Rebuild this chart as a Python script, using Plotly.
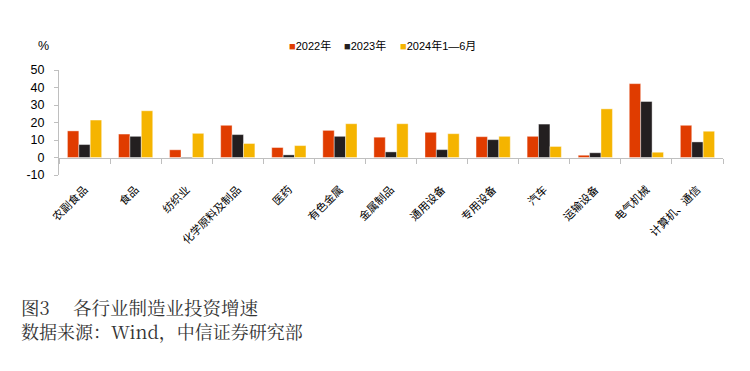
import plotly.graph_objects as go

categories = ["农副食品", "食品", "纺织业", "化学原料及制品", "医药", "有色金属", "金属制品",
              "通用设备", "专用设备", "汽车", "运输设备", "电气机械", "计算机、通信"]
s2022 = [15.2, 13.4, 4.4, 18.4, 5.7, 15.5, 11.6, 14.4, 11.9, 12.1, 1.3, 42.2, 18.4]
s2023 = [7.4, 12.1, -0.5, 13.1, 1.5, 12.1, 3.2, 4.5, 10.2, 19.1, 2.7, 32.0, 8.9]
s2024 = [21.4, 26.7, 13.8, 8.0, 6.8, 19.3, 19.3, 13.6, 12.1, 6.3, 27.8, 3.0, 15.0]
series_names = ["2022年", "2023年", "2024年1—6月"]
colors = ["#E03C00", "#231F20", "#F5B400"]
yticks = [-10, 0, 10, 20, 30, 40, 50]
ytick_labels = ["-10", "0", "10", "20", "30", "40", "50"]

PLOT_LEFT, PLOT_RIGHT = 59, 723
PLOT_TOP, PLOT_BOTTOM = 70, 175


def px_x(px):
    return (px - PLOT_LEFT) / (PLOT_RIGHT - PLOT_LEFT)


def px_y(px):
    return (PLOT_BOTTOM - px) / (PLOT_BOTTOM - PLOT_TOP)


fig = go.Figure()
for name, vals, c in zip(series_names, [s2022, s2023, s2024], colors):
    fig.add_trace(go.Bar(x=categories, y=vals, name=name, marker_color=c, showlegend=False,
                         marker_line=dict(color="rgba(255,255,255,0.5)", width=0.8)))

# helper trace for the zero-line category axis
fig.add_trace(go.Scatter(x=categories, y=[None] * len(categories), xaxis="x2", mode="lines",
                         showlegend=False, hoverinfo="skip"))

cat_range = [-0.5, len(categories) - 0.5]

# compact legend (small square + label), as text
legend_x_px = [287, 342, 398]
legend_ann = [
    dict(text=f'<span style="color:{c}">■</span>{n}', xref="paper", yref="paper",
         x=px_x(lx), y=px_y(45), xanchor="left", yanchor="middle", showarrow=False,
         font=dict(size=11, family="Arial, Noto Sans CJK SC", color="#000"))
    for n, c, lx in zip(series_names, colors, legend_x_px)
]

fig.update_layout(
    width=750, height=371,
    margin=dict(l=PLOT_LEFT, r=750 - PLOT_RIGHT, t=PLOT_TOP, b=371 - PLOT_BOTTOM, autoexpand=False),
    paper_bgcolor="white", plot_bgcolor="white",
    barmode="group", bargap=0.33, bargroupgap=0,
    showlegend=False,
    font=dict(family="Arial, Liberation Sans, Noto Sans CJK SC", size=12, color="#000"),
    xaxis=dict(type="category", categoryorder="array", categoryarray=categories,
               range=cat_range, autorange=False,
               showline=False, ticks="", tickangle=-45, showgrid=False, zeroline=False,
               automargin=False, ticklabelstandoff=5,
               tickfont=dict(size=11, family="Noto Sans CJK SC", color="#000")),
    xaxis2=dict(type="category", categoryorder="array", categoryarray=categories,
                range=cat_range, autorange=False,
                overlaying="x", anchor="free", position=1 / 6,
                showline=True, linecolor="#BFBFBF", linewidth=1, automargin=False,
                ticks="outside", tickson="boundaries", ticklen=5, tickcolor="#BFBFBF",
                showticklabels=False, showgrid=False, zeroline=False),
    yaxis=dict(range=[-10, 50], tickvals=yticks, ticktext=ytick_labels,
               showgrid=False, zeroline=False, automargin=False,
               showline=True, linecolor="#BFBFBF", linewidth=1,
               ticks="outside", ticklen=4, tickcolor="#BFBFBF", ticklabelstandoff=7,
               tickfont=dict(size=12.5, family="Arial, Liberation Sans")),
    annotations=legend_ann + [
        dict(text="%", xref="paper", yref="paper", x=px_x(43.5), y=px_y(46), showarrow=False,
             xanchor="center", yanchor="middle", font=dict(size=12.5, family="Arial")),
        dict(text="图3　 各行业制造业投资增速", xref="paper", yref="paper",
             x=px_x(19), xanchor="left", y=px_y(307), yanchor="middle",
             showarrow=False, font=dict(size=18.5, family="Noto Serif CJK SC, Noto Sans CJK SC", color="#333")),
        dict(text="数据来源：Wind，中信证券研究部", xref="paper", yref="paper",
             x=px_x(19), xanchor="left", y=px_y(331), yanchor="middle",
             showarrow=False, font=dict(size=18, family="Noto Serif CJK SC, Noto Sans CJK SC", color="#333")),
    ],
)

fig.write_html("out.html", config={"displayModeBar": False},
               post_script="document.body.style.margin='0';")
